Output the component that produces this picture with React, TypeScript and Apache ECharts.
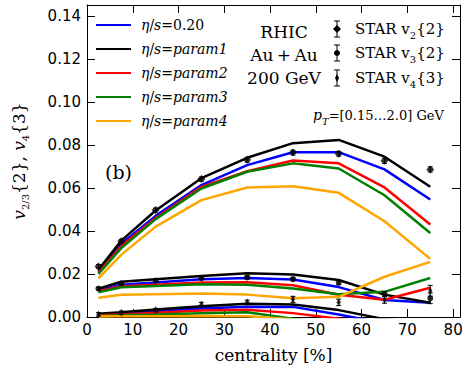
import React, { useEffect, useRef } from 'react';
import * as echarts from 'echarts';

// centrality bins [%]
const centrality = [2.5, 7.5, 15, 25, 35, 45, 55, 65, 75];

const paramNames = ['η/s=0.20', 'η/s=param1', 'η/s=param2', 'η/s=param3', 'η/s=param4'];
const paramColors = ['#0000ff', '#000000', '#ff0000', '#008000', '#ffa500'];

// hydro v2{2}
const v2Eta020 = [0.021, 0.034, 0.047, 0.0613, 0.0706, 0.0766, 0.0766, 0.0686, 0.0546];
const v2Param1 = [0.022, 0.0355, 0.0495, 0.0645, 0.074, 0.0808, 0.0823, 0.0745, 0.0605];
const v2Param2 = [0.0205, 0.033, 0.046, 0.0605, 0.0678, 0.0727, 0.0714, 0.0602, 0.043];
const v2Param3 = [0.02, 0.032, 0.0455, 0.0597, 0.0675, 0.0714, 0.069, 0.0566, 0.039];
const v2Param4 = [0.018, 0.029, 0.042, 0.0543, 0.0602, 0.0608, 0.0577, 0.0445, 0.027];

// hydro v3{2}
const v3Eta020 = [0.0125, 0.015, 0.016, 0.0176, 0.0181, 0.0174, 0.0139, 0.0079, 0.0066];
const v3Param1 = [0.0132, 0.0164, 0.0175, 0.019, 0.0203, 0.0198, 0.0172, 0.0104, 0.0066];
const v3Param2 = [0.012, 0.0143, 0.015, 0.016, 0.0162, 0.0148, 0.0103, 0.008, 0.0136];
const v3Param3 = [0.0115, 0.0138, 0.0144, 0.0152, 0.015, 0.0132, 0.0106, 0.0117, 0.0181];
const v3Param4 = [0.009, 0.0103, 0.0106, 0.0109, 0.0104, 0.0087, 0.0094, 0.0187, 0.0256];

// hydro v4{3}
const v4Eta020 = [0.001, 0.0015, 0.0028, 0.004, 0.0048, 0.0047, 0.0012, -0.003, -0.005];
const v4Param1 = [0.0015, 0.0022, 0.0035, 0.005, 0.0062, 0.0058, 0.0032, -0.001, -0.003];
const v4Param2 = [0.0008, 0.0012, 0.002, 0.003, 0.0034, 0.0018, -0.0008, -0.004, -0.006];
const v4Param3 = [0.0005, 0.0008, 0.0012, 0.0018, 0.0022, -0.0008, -0.003, -0.005, -0.007];
const v4Param4 = [0.0002, 0.0003, 0.0004, 0.0005, 0.0003, -0.001, -0.004, -0.006, -0.008];

// STAR data
const starV2 = [0.0235, 0.0352, 0.0497, 0.0641, 0.0731, 0.0764, 0.0759, 0.0726, 0.0686];
const starV2Err = [0.0009, 0.0009, 0.0009, 0.001, 0.0011, 0.0011, 0.0011, 0.0012, 0.0012];
const starV3 = [0.0132, 0.0156, 0.0169, 0.018, 0.0184, 0.0176, 0.016, 0.0107, 0.0087];
const starV3Err = [0.0006, 0.0006, 0.0006, 0.0006, 0.0007, 0.0008, 0.001, 0.0012, 0.0025];
const starV4 = [0.0012, 0.002, 0.0032, 0.0058, 0.0068, 0.0082, 0.0068, 0.0079, 0.0122];
const starV4Err = [0.0008, 0.0008, 0.0008, 0.001, 0.001, 0.0014, 0.0015, 0.0015, 0.0025];

const starNames = ['STAR v{s|2}{2}', 'STAR v{s|3}{2}', 'STAR v{s|4}{3}'];

const X_MIN = 0, X_MAX = 81.5, X_INT = 10;
const Y_MIN = 0, Y_MAX = 0.145, Y_INT = 0.02;

const SERIF = 'DejaVu Serif';
const SANS = 'DejaVu Sans';

const subRich = {
  s: { fontFamily: SERIF, fontSize: 10, lineHeight: 10, verticalAlign: 'bottom' as const, color: '#000' },
  si: { fontFamily: SERIF, fontSize: 10, lineHeight: 10, verticalAlign: 'bottom' as const, fontStyle: 'italic' as const, color: '#000' },
  i: { fontFamily: SERIF, fontSize: 17, lineHeight: 22, fontStyle: 'italic' as const, color: '#000' },
};

export default function App() {
  const ref = useRef<HTMLDivElement>(null);
  useEffect(() => {
    if (!ref.current) return;
    const chart = echarts.init(ref.current, undefined, { renderer: 'svg' });

    const groups = [
      [v2Eta020, v2Param1, v2Param2, v2Param3, v2Param4],
      [v3Eta020, v3Param1, v3Param2, v3Param3, v3Param4],
      [v4Eta020, v4Param1, v4Param2, v4Param3, v4Param4],
    ];
    const lineSeries: any[] = [];
    groups.forEach((grp) => {
      grp.forEach((arr, k) => {
        lineSeries.push({
          type: 'line',
          name: paramNames[k],
          data: centrality.map((c, j) => [c, arr[j]]),
          symbol: 'none',
          lineStyle: { color: paramColors[k], width: 2.5 },
          itemStyle: { color: paramColors[k] },
          z: 2,
          clip: true,
        });
      });
    });

    const starSets = [
      { vals: starV2, errs: starV2Err, symbol: 'diamond', size: 8 },
      { vals: starV3, errs: starV3Err, symbol: 'circle', size: 6 },
      { vals: starV4, errs: starV4Err, symbol: 'diamond', size: [4, 8] },
    ];
    const starSeries: any[] = [];
    starSets.forEach((s, k) => {
      starSeries.push({
        type: 'custom',
        name: 'err' + k,
        data: centrality.map((c, j) => [c, s.vals[j], s.errs[j]]),
        z: 4,
        clip: true,
        renderItem: (params: any, api: any) => {
          const x = api.value(0), y = api.value(1), e = api.value(2);
          const top = api.coord([x, y + e]);
          const bot = api.coord([x, y - e]);
          const st = { stroke: '#000', lineWidth: 1 };
          return {
            type: 'group',
            children: [
              { type: 'line', shape: { x1: top[0], y1: top[1], x2: bot[0], y2: bot[1] }, style: st },
              { type: 'line', shape: { x1: top[0] - 2.5, y1: top[1], x2: top[0] + 2.5, y2: top[1] }, style: st },
              { type: 'line', shape: { x1: bot[0] - 2.5, y1: bot[1], x2: bot[0] + 2.5, y2: bot[1] }, style: st },
            ],
          };
        },
      });
      starSeries.push({
        type: 'scatter',
        name: 'STAR' + k,
        data: centrality.map((c, j) => [c, s.vals[j]]),
        symbol: s.symbol,
        symbolSize: s.size,
        itemStyle: { color: '#000' },
        z: 5,
      });
    });

    const rowYs = [29, 53, 78];
    const mx = 337;
    const legendGraphics: any[] = [];
    rowYs.forEach((y, k) => {
      const st = { stroke: '#000', lineWidth: 1 };
      legendGraphics.push({ type: 'line', shape: { x1: mx, y1: y - 8, x2: mx, y2: y + 8 }, style: st });
      legendGraphics.push({ type: 'line', shape: { x1: mx - 3, y1: y - 8, x2: mx + 3, y2: y - 8 }, style: st });
      legendGraphics.push({ type: 'line', shape: { x1: mx - 3, y1: y + 8, x2: mx + 3, y2: y + 8 }, style: st });
      if (k === 0) {
        legendGraphics.push({ type: 'polygon', shape: { points: [[mx, y - 4], [mx + 4, y], [mx, y + 4], [mx - 4, y]] }, style: { fill: '#000' } });
      } else if (k === 1) {
        legendGraphics.push({ type: 'circle', shape: { cx: mx, cy: y, r: 3 }, style: { fill: '#000' } });
      } else {
        legendGraphics.push({ type: 'polygon', shape: { points: [[mx, y - 4], [mx + 2, y], [mx, y + 4], [mx - 2, y]] }, style: { fill: '#000' } });
      }
      legendGraphics.push({
        type: 'text', x: 355, y,
        style: { text: starNames[k], fontFamily: SERIF, fontSize: 15, lineHeight: 22, fill: '#000', verticalAlign: 'middle', align: 'left', rich: subRich },
      });
    });

    const txt = (text: string, x: number, y: number, size: number, align = 'center', rich?: any) => ({
      type: 'text', x, y,
      style: { text, fontFamily: SERIF, fontSize: size, lineHeight: 22, fill: '#000', align, verticalAlign: 'middle', rich },
    });

    const graphics = [
      ...legendGraphics,
      txt('RHIC', 284, 32, 17),
      txt('Au\u2009+\u2009Au', 284, 55, 17),
      txt('200 GeV', 284, 78, 17),
      txt('(b)', 105, 172, 19, 'left'),
      txt('{i|p}{si|T}=[0.15…2.0] GeV', 313, 115, 13, 'left', {
        ...subRich,
        i: { fontFamily: SERIF, fontSize: 14, lineHeight: 22, fontStyle: 'italic', color: '#000' },
      }),
    ];

    const baseAxisLine = { show: true, onZero: false, lineStyle: { color: '#000', width: 1 } };
    const tick = { show: true, inside: true, length: 8, lineStyle: { color: '#000', width: 1 } };

    chart.setOption({
      animation: false,
      grid: { left: 84, right: 8, top: 5, bottom: 57, containLabel: false },
      legend: {
        data: paramNames,
        orient: 'vertical',
        left: 95,
        top: 18,
        padding: 0,
        itemWidth: 35,
        itemHeight: 14,
        itemGap: 10,
        selectedMode: false,
        itemStyle: { opacity: 0 },
        formatter: (name: string) => {
          const rest = name.slice(4);
          return '{i|η}/{i|s}=' + (rest.startsWith('param') ? '{i|' + rest + '}' : rest);
        },
        textStyle: {
          fontFamily: SERIF, fontSize: 14, color: '#000', padding: [0, 0, 0, 5],
          rich: { i: { fontFamily: SERIF, fontSize: 14, fontStyle: 'italic', color: '#000' } },
        },
      },
      xAxis: [
        {
          type: 'value', min: X_MIN, max: X_MAX, interval: X_INT,
          axisLine: baseAxisLine, axisTick: tick, splitLine: { show: false },
          axisLabel: {
            color: '#000', fontFamily: SANS, fontSize: 15, margin: 5,
            formatter: (v: number) => (Math.abs(v % 10) < 1e-9 ? String(v) : ''),
          },
          name: 'centrality [%]', nameLocation: 'middle', nameGap: 29,
          nameTextStyle: { fontFamily: SERIF, fontSize: 17, color: '#000' },
        },
        {
          type: 'value', position: 'top', min: X_MIN, max: X_MAX, interval: X_INT,
          axisLine: baseAxisLine, axisTick: tick, axisLabel: { show: false }, splitLine: { show: false },
        },
      ],
      yAxis: [
        {
          type: 'value', min: Y_MIN, max: Y_MAX, interval: Y_INT,
          axisLine: baseAxisLine, axisTick: tick, splitLine: { show: false },
          axisLabel: {
            color: '#000', fontFamily: SANS, fontSize: 15, margin: 6,
            formatter: (v: number) => (Math.abs(v * 50 - Math.round(v * 50)) < 1e-6 ? v.toFixed(2) : ''),
          },
          name: '{i|v}{s|2/3}{2}, {i|v}{s|4}{3}', nameLocation: 'middle', nameGap: 57,
          nameTextStyle: { fontFamily: SERIF, fontSize: 17, lineHeight: 22, color: '#000', rich: subRich },
        },
        {
          type: 'value', position: 'right', min: Y_MIN, max: Y_MAX, interval: Y_INT,
          axisLine: baseAxisLine, axisTick: tick, axisLabel: { show: false }, splitLine: { show: false },
        },
      ],
      graphic: graphics,
      series: [...lineSeries, ...starSeries],
    });
    return () => chart.dispose();
  }, []);
  return <div ref={ref} style={{ width: 468, height: 374, position: 'absolute', left: 0, top: 0 }} />;
}
